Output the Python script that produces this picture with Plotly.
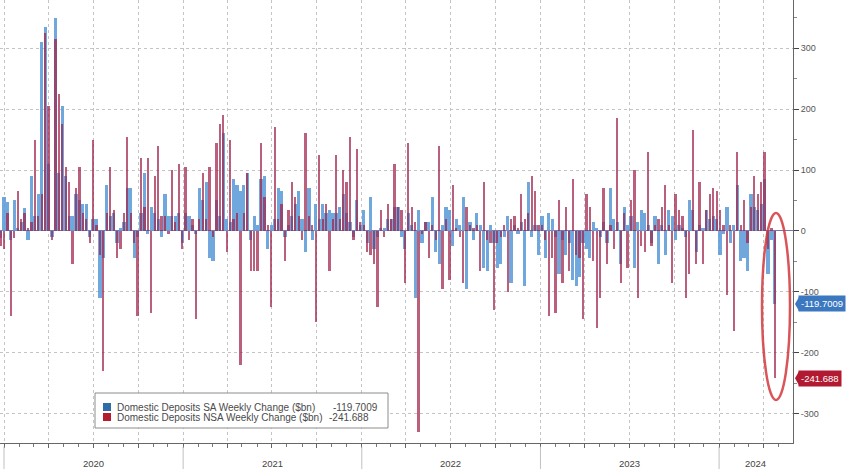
import pandas as pd
import plotly.graph_objects as go

# ---------------- data ($bn weekly change) ----------------
first_week = "2019-12-25"

sa_weekly_change = [
    -12, 55, 48, -15, 50, 5, 15, 38, -15, 90, 25, 60, 310, 335, 110, -10, 350, 95, 205, 90,
    25, 25, 60, 50, 45, 45, -10, 20, 20, -110, -45, 75, 25, 30, -20, 5, 15, 70,
    70, -45, -10, 30, 95, -5, 40, 30, 20, -10, 60, 25, 25, 25, 30, -20, 30, 25, 10, -5,
    70, 50, 80, -45, -50, 50, 25, 160, 20, 15, 85, 75, 65, 75, 95, -15, 25, 10, 85,
    90, -30, 10, 20, 70, 65, -10, 10, 25, 45, 65, 20, -35, 70, -15, 45, 20, 45, 30, 35,
    30, 30, 40, 60, 30, 15, -10, 50, 10, 35, -20, 55, -30, -10, 5, 5, 20, 20, 40,
    40, -10, -30, 30, 10, -110, 35, -20, 15, 15, 55, -35, -55, 10, 40, 35, -25, 20, 10,
    55, -95, 15, -15, 30, 10, -60, -65, 10, -20, -60, -55, -10, 25, -85, 10, -5, 15, -90,
    80, -10, 10, -40, 25, -45, 30, 20, -10, -70, -15, -40, -20, -80, -90, -75, -20, -30,
    -45, 15, 5, -10, 15, -20, 70, 20, 15, -55, 40, 10, 25, -60, 15, 35, 30, 10, -20, 25, -55,
    10, -40, 35, 25, -15, 10, 5, -10, 50, 35, -35, 10, 5, 35, 20, 25, 20, -40, -5, 40,
    -20, 10, 75, -50, -45, -65, 60, 40, 35, 45, 85, -70, -15, -119.7009,
]

nsa_weekly_change = [
    -25, -30, 30, -140, -12, 65, 20, 30, 5, 15, 150, 25, 60, 325, 205, -15, 315, 225, 175, 105,
    80, -55, 70, 105, 30, 20, -20, 150, 10, -40, -230, 30, 105, 35, -45, -30, 30, 155,
    30, -20, -140, 120, 40, 120, -135, 90, 140, 25, 25, -5, 100, 15, 110, -30, 105, -15, 20, -145,
    20, 95, 20, 105, -10, 145, 175, 190, -35, 150, 20, 30, -220, 30, 95, -65, -65, -65, 145,
    55, 10, -125, 170, 20, 45, -50, 35, 80, 55, 25, -15, 160, 25, 10, -150, 125, 20, 45, -65,
    20, 125, 20, 100, 80, 155, -15, 135, 15, 10, -35, -40, -55, -125, 35, -10, 45, 20, 110,
    40, 35, -85, 145, 40, 15, -330, -5, 15, -45, 10, -15, 140, -95, 20, -80, 75, 5, -10,
    -85, 40, 10, 5, 10, -65, 80, -15, -20, -130, -20, -10, 10, -100, 20, 25, 5, 60, 20,
    30, 90, 65, 10, 10, -15, -140, -45, -135, 50, -85, 40, -65, 85, -40, -45, -145, 60,
    40, -50, -160, -110, 70, -55, 10, -30, 185, -85, 30, -60, 50, 100, -110, -25, -35, 130, -25, 10, 20,
    40, 75, 10, -85, 60, 35, 25, -110, -70, 165, -55, 80, -55, 35, 60, 70, 65, 35, 10, -105,
    10, -165, 130, 10, 50, -20, 40, 90, 60, 80, 130, -30, 5, -241.688,
]

year_labels = ["2020", "2021", "2022", "2023", "2024"]
y_tick_values = [-300, -200, -100, 0, 100, 200, 300]
y_tick_text = ["-300", "-200", "-100", "0", "100", "200", "300"]

sa_name = "Domestic Deposits SA Weekly Change ($bn)"
nsa_name = "Domestic Deposits NSA Weekly Change ($bn)"

# ---------------------------------------------------------------------------------
dates = pd.date_range(first_week, periods=len(sa_weekly_change), freq="7D")
DAY = 86400000

fig = go.Figure()
fig.add_trace(go.Bar(
    x=dates, y=sa_weekly_change, name=sa_name, showlegend=False,
    marker=dict(color="rgba(92,156,218,0.88)", line=dict(width=0)),
    width=6.5 * DAY,
))
fig.add_trace(go.Bar(
    x=dates, y=nsa_weekly_change, name=nsa_name, showlegend=False,
    marker=dict(color="rgba(160,34,74,0.72)", line=dict(width=0)),
    width=4.6 * DAY,
))

BASE_FONT = "Liberation Sans, Arial, sans-serif"

fig.update_layout(
    width=848, height=469,
    margin=dict(l=0, r=55, t=0, b=26),
    paper_bgcolor="white", plot_bgcolor="white",
    barmode="overlay", bargap=0,
    font=dict(family=BASE_FONT, size=9, color="#555"),
    showlegend=False,
)

fig.update_xaxes(
    type="date",
    range=["2019-12-23 20:00", "2024-05-31"],
    showticklabels=False,
    tick0="2020-01-01", dtick="M3",
    ticks="outside", ticklen=4, tickcolor="#666",
    minor=dict(dtick="M1", ticks="outside", ticklen=3, tickcolor="#777", showgrid=False),
    showgrid=True, gridcolor="#c4c4c4", griddash="dot", gridwidth=1,
    showline=True, linecolor="#666", linewidth=1,
    zeroline=False, fixedrange=True,
)

fig.update_yaxes(
    side="right",
    range=[-348, 379],
    tickvals=y_tick_values, ticktext=y_tick_text,
    ticks="outside", ticklen=5, tickcolor="#444",
    minor=dict(tickvals=[-350, -250, -150, -50, 50, 150, 250, 350], ticks="outside",
               ticklen=3, tickcolor="#888", showgrid=False),
    tickfont=dict(family=BASE_FONT, size=9, color="#555"),
    showgrid=True, gridcolor="#c4c4c4", griddash="dot", gridwidth=1,
    showline=True, linecolor="#666", linewidth=1,
    zeroline=True, zerolinecolor="#7478b4", zerolinewidth=1,
    fixedrange=True,
)

shapes = []
annotations = []

# year separators and labels under the axis
for i, yr in enumerate(year_labels):
    shapes.append(dict(type="line", xref="x", yref="paper",
                       x0=f"{yr}-01-01", x1=f"{yr}-01-01", y0=-0.008, y1=-0.06,
                       line=dict(color="#c0c0c0", width=1)))
    if i < len(year_labels) - 1:
        mid = f"{yr}-07-02"
    else:
        mid = "2024-03-16"
    annotations.append(dict(x=mid, xref="x", y=-0.046, yref="paper", text=yr,
                            showarrow=False, xanchor="center", yanchor="middle",
                            font=dict(family=BASE_FONT, size=9.5, color="#444")))

# manual legend box
PW, PH = 793.0, 443.0
UNITS_PER_PX = (379 + 348) / PH
def px(xp):
    return xp / PW
def py(yp):
    return (PH - yp) / PH

shapes.append(dict(type="rect", xref="paper", yref="paper",
                   x0=px(95), x1=px(388), y0=py(428), y1=py(393),
                   fillcolor="white", line=dict(color="#8c8c8c", width=1)))
shapes.append(dict(type="rect", xref="paper", yref="paper",
                   x0=px(103), x1=px(111), y0=py(411), y1=py(403),
                   fillcolor="#2f6ca8", line=dict(width=0)))
shapes.append(dict(type="rect", xref="paper", yref="paper",
                   x0=px(103), x1=px(111), y0=py(421), y1=py(413),
                   fillcolor="#b51c2e", line=dict(width=0)))
legend_font = dict(family=BASE_FONT, size=10, color="#4a4a4a")
annotations += [
    dict(x=px(115), y=py(407), xref="paper", yref="paper", text=sa_name,
         showarrow=False, xanchor="left", yanchor="middle", font=legend_font),
    dict(x=px(115), y=py(417), xref="paper", yref="paper", text=nsa_name,
         showarrow=False, xanchor="left", yanchor="middle", font=legend_font),
    dict(x=px(331), y=py(407), xref="paper", yref="paper", text=f"{sa_weekly_change[-1]:.4f}",
         showarrow=False, xanchor="left", yanchor="middle", font=legend_font),
    dict(x=px(327), y=py(417), xref="paper", yref="paper", text=f"{nsa_weekly_change[-1]:.3f}",
         showarrow=False, xanchor="left", yanchor="middle", font=legend_font),
]

# last-value tags on the right axis (with a small pointer)
for val, col, txt in [(sa_weekly_change[-1], "#3b78c0", f"{sa_weekly_change[-1]:.4f}"),
                      (nsa_weekly_change[-1], "#b11a30", f"{nsa_weekly_change[-1]:.3f}")]:
    annotations.append(dict(x=1.0, xref="paper", y=val, yref="y", text=txt,
                            showarrow=False, xanchor="left", yanchor="middle",
                            xshift=5, bgcolor=col, borderpad=2,
                            font=dict(family=BASE_FONT, size=9.5, color="white")))
    h = 7 * UNITS_PER_PX
    shapes.append(dict(type="path", xref="paper", yref="y",
                       path=f"M {px(795)} {val} L {px(799)} {val + h} L {px(799)} {val - h} Z",
                       fillcolor=col, line=dict(width=0)))

# highlight ellipse
shapes.append(dict(type="circle", xref="paper", yref="paper",
                   x0=px(762), x1=px(790), y0=py(400), y1=py(213),
                   line=dict(color="rgba(210,55,60,0.85)", width=2.5)))

fig.update_layout(shapes=shapes, annotations=annotations)

fig.write_html("out.html", config={"displayModeBar": False, "staticPlot": True},
               post_script="document.body.style.margin='0';document.body.style.padding='0';")
